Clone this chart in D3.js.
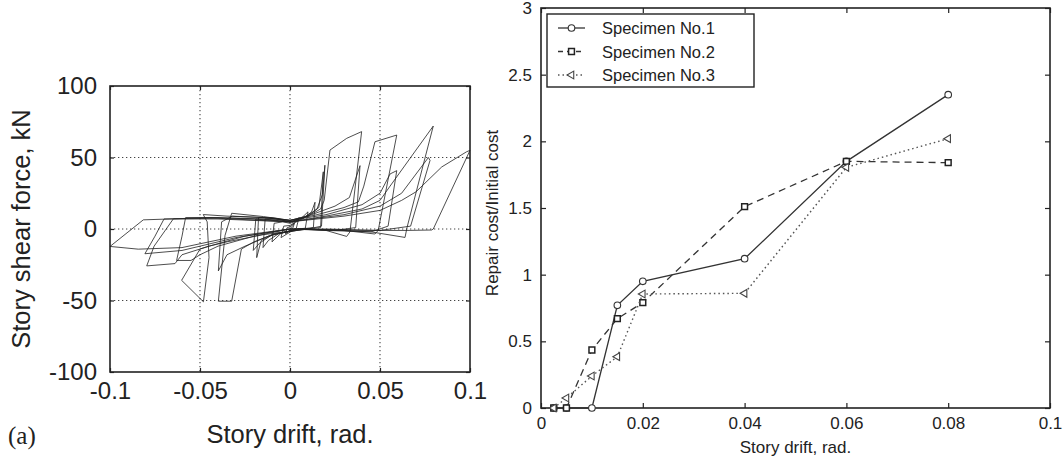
<!DOCTYPE html>
<html>
<head>
<meta charset="utf-8">
<script src="https://cdn.jsdelivr.net/npm/d3@7"></script>
<style>
  body { margin: 0; background: #fff; }
  svg { display: block; font-family: "Liberation Sans", Arial, sans-serif; }
</style>
</head>
<body>
<script>
// ---- panel (a) : hysteresis loops, [drift, force] ----
const driftTicksA = [-0.1, -0.05, 0, 0.05, 0.1]
const forceTicks = [-100, -50, 0, 50, 100]
const hysteresisLoops = [
  [[0, 0], [0.0025, 4], [0.0015, 0.5], [-0.0025, -3.5], [-0.0015, 1], [0, 1.5]],
  [[0, 1.5], [0.005, 8], [0.0035, 0.5], [-0.005, -6], [-0.0035, 2], [0, 2.5]],
  [[0, 2.5], [0.005, 6], [0.01, 12], [0.0085, 0.5], [0.003, 0], [-0.005, -3], [-0.01, -9], [-0.0088, 4], [-0.004, 5], [0, 4]],
  [[0, 4], [0.007, 7], [0.012, 12], [0.0139, 18.7], [0.013, 1], [0.006, 0], [-0.006, -3], [-0.012, -8], [-0.015, -13], [-0.0138, 7], [-0.007, 7], [0, 5]],
  [[0, 5], [0.008, 8], [0.015, 14], [0.018, 24], [0.0194, 44.6], [0.0175, 2], [0.01, 0], [-0.008, -3], [-0.016, -8], [-0.0185, -20], [-0.0175, 8], [-0.01, 8], [0, 6]],
  [[0, 6], [0.01, 9], [0.016, 15], [0.0185, 40], [0.017, 1], [0.008, 0], [-0.01, -4], [-0.017, -10], [-0.0204, -15], [-0.019, 7], [-0.008, 7], [0, 5]],
  [[0, 5], [0.01, 9], [0.017, 14], [0.019, 20], [0.0222, 55.2], [0.0315, 63.4], [0.0398, 68.1], [0.0333, -2], [0.0315, -5.2], [0.02, -1], [0.005, 0], [-0.01, -4], [-0.02, -9], [-0.027, -14], [-0.0324, -50.5], [-0.0398, -50.5], [-0.0361, -4.5], [-0.0324, 11], [-0.0148, 8.7], [0, 6]],
  [[0, 6], [0.012, 10], [0.025, 16], [0.033, 22], [0.0389, 44.3], [0.0365, 1], [0.025, -1], [0.005, 0], [-0.012, -5], [-0.025, -12], [-0.035, -18], [-0.0398, -29.3], [-0.038, 5], [-0.032, 9], [-0.015, 8], [0, 6]],
  [[0, 6], [0.015, 10], [0.03, 15], [0.038, 19], [0.041, 30], [0.0472, 61], [0.0593, 65.7], [0.049, -1], [0.0472, -3.5], [0.03, -1], [0.01, 0], [-0.015, -4], [-0.035, -9], [-0.045, -12], [-0.05, -14], [-0.0602, -35.9], [-0.0481, -50.9], [-0.045, -20], [-0.046, 5], [-0.0482, 10.1], [-0.035, 9], [-0.015, 8], [0, 6]],
  [[0, 6], [0.02, 10], [0.04, 17], [0.05, 25], [0.0556, 38.5], [0.0593, 40.8], [0.0545, 2], [0.045, -2], [0.02, -1], [0, 0], [-0.02, -5], [-0.04, -12], [-0.05, -18], [-0.055, -22], [-0.063, -22], [-0.06, -5], [-0.058, 8], [-0.04, 8], [-0.015, 7], [0, 5]],
  [[0, 5], [0.02, 9], [0.04, 14], [0.05, 20], [0.0556, 30], [0.0796, 72], [0.065, 1], [0.0639, -5.9], [0.045, -2], [0.02, -0.5], [0, 0], [-0.025, -5], [-0.045, -12], [-0.06, -18], [-0.0639, -24.2], [-0.0796, -25.8], [-0.0755, -12], [-0.0648, 7.1], [-0.045, 8], [-0.02, 7], [0, 5]],
  [[0, 5], [0.03, 10], [0.05, 16], [0.062, 25], [0.0769, 50], [0.0778, 48], [0.067, 2], [0.05, -1], [0.02, 0], [0, 0], [-0.03, -6], [-0.06, -15], [-0.0806, -17.3], [-0.075, -5], [-0.07, 7], [-0.04, 7.5], [0, 5]],
  [[0, 5], [0.03, 9], [0.05, 13], [0.062, 20], [0.07, 26], [0.0843, 43.4], [0.0981, 54], [0.1, 55], [0.0796, 0], [0.0787, -0.7], [0.065, -1], [0.04, -1], [0, 0], [-0.03, -5], [-0.06, -13], [-0.0843, -14.1], [-0.1, -12.2], [-0.0815, 6.4], [-0.0648, 7.1], [-0.04, 7], [0, 5]]
]

// ---- panel (b) : repair cost ratio ----
const driftLevels = [0.0025, 0.005, 0.01, 0.015, 0.02, 0.04, 0.06, 0.08]
const specimen1 = [0, 0, 0, 0.77, 0.95, 1.12, 1.85, 2.35]
const specimen2 = [0, 0, 0.435, 0.67, 0.79, 1.51, 1.85, 1.84]
const specimen3 = [0, 0.075, 0.24, 0.385, 0.855, 0.86, 1.805, 2.02]
const specimenNames = ["Specimen No.1", "Specimen No.2", "Specimen No.3"]
const driftTicksB = [0, 0.02, 0.04, 0.06, 0.08, 0.1]
const costTicks = [0, 0.5, 1, 1.5, 2, 2.5, 3]

// tirets simples comme dans la figure d'origine
const plainNum = d => String(d)

const svg = d3.select("body").append("svg")
  .attr("width", 1063)
  .attr("height", 460)

// ================= panel (a) =================
const a = { left: 110, right: 470, top: 86, bottom: 372 }
const xa = d3.scaleLinear().domain([-0.1, 0.1]).range([a.left, a.right])
const ya = d3.scaleLinear().domain([-100, 100]).range([a.bottom, a.top])

const gA = svg.append("g")

// grille pointillée
gA.selectAll(".vgrid").data(driftTicksA.slice(1, -1)).join("line")
  .attr("x1", d => xa(d)).attr("x2", d => xa(d))
  .attr("y1", a.top).attr("y2", a.bottom)
  .attr("stroke", "#444").attr("stroke-width", 1.1).attr("stroke-dasharray", "1.3,2.7")
gA.selectAll(".hgrid").data(forceTicks.slice(1, -1)).join("line")
  .attr("x1", a.left).attr("x2", a.right)
  .attr("y1", d => ya(d)).attr("y2", d => ya(d))
  .attr("stroke", "#444").attr("stroke-width", 1.1).attr("stroke-dasharray", "1.3,2.7")

// boucles
const lineA = d3.line().x(d => xa(d[0])).y(d => ya(d[1]))
gA.append("g")
  .selectAll("path")
  .data(hysteresisLoops)
  .join("path")
  .attr("d", lineA)
  .attr("fill", "none")
  .attr("stroke", "#222")
  .attr("stroke-width", 1)
  .attr("stroke-opacity", 0.8)
  .attr("stroke-linejoin", "round")

// axes
gA.append("g").attr("transform", `translate(0,${a.bottom})`)
  .call(d3.axisBottom(xa).tickValues(driftTicksA).tickSize(-4).tickPadding(10).tickFormat(plainNum))
gA.append("g").attr("transform", `translate(${a.left},0)`)
  .call(d3.axisLeft(ya).tickValues(forceTicks).tickSize(-4).tickPadding(13).tickFormat(plainNum))
gA.append("g").attr("transform", `translate(0,${a.top})`)
  .call(d3.axisTop(xa).tickValues(driftTicksA).tickSize(-4).tickFormat(""))
gA.append("g").attr("transform", `translate(${a.right},0)`)
  .call(d3.axisRight(ya).tickValues(forceTicks).tickSize(-4).tickFormat(""))

gA.selectAll(".domain").remove()
gA.selectAll(".tick line").attr("stroke", "#222").attr("stroke-width", 1.2)
gA.selectAll(".tick text")
  .attr("fill", "#222")
  .style("font-size", "24px")
  .style("font-family", "'Liberation Sans', Arial, sans-serif")

gA.append("rect")
  .attr("x", a.left).attr("y", a.top)
  .attr("width", a.right - a.left).attr("height", a.bottom - a.top)
  .attr("fill", "none").attr("stroke", "#222").attr("stroke-width", 1.6)

gA.append("text")
  .attr("text-anchor", "middle")
  .attr("x", (a.left + a.right) / 2)
  .attr("y", 443)
  .attr("fill", "#222")
  .style("font-size", "25.5px")
  .text("Story drift, rad.")

gA.append("text")
  .attr("text-anchor", "middle")
  .attr("transform", `translate(30,${(a.top + a.bottom) / 2}) rotate(-90)`)
  .attr("fill", "#222")
  .style("font-size", "25.5px")
  .text("Story shear force, kN")

gA.append("text")
  .attr("x", 8)
  .attr("y", 444)
  .attr("fill", "#222")
  .style("font-family", "'Liberation Serif', 'Times New Roman', serif")
  .style("font-size", "25px")
  .text("(a)")

// ================= panel (b) =================
const b = { left: 541, right: 1050, top: 8, bottom: 408 }
const xb = d3.scaleLinear().domain([0, 0.1]).range([b.left, b.right])
const yb = d3.scaleLinear().domain([0, 3]).range([b.bottom, b.top])

const gB = svg.append("g")

gB.append("g").attr("transform", `translate(0,${b.bottom})`)
  .call(d3.axisBottom(xb).tickValues(driftTicksB).tickSize(-5).tickPadding(9).tickFormat(plainNum))
gB.append("g").attr("transform", `translate(${b.left},0)`)
  .call(d3.axisLeft(yb).tickValues(costTicks).tickSize(-5).tickPadding(9).tickFormat(plainNum))
gB.append("g").attr("transform", `translate(0,${b.top})`)
  .call(d3.axisTop(xb).tickValues(driftTicksB).tickSize(-5).tickFormat(""))
gB.append("g").attr("transform", `translate(${b.right},0)`)
  .call(d3.axisRight(yb).tickValues(costTicks).tickSize(-5).tickFormat(""))

gB.selectAll(".domain").remove()
gB.selectAll(".tick line").attr("stroke", "#222").attr("stroke-width", 1.2)
gB.selectAll(".tick text")
  .attr("fill", "#222")
  .style("font-size", "17px")
  .style("font-family", "'Liberation Sans', Arial, sans-serif")

gB.append("rect")
  .attr("x", b.left).attr("y", b.top)
  .attr("width", b.right - b.left).attr("height", b.bottom - b.top)
  .attr("fill", "none").attr("stroke", "#222").attr("stroke-width", 1.6)

gB.append("text")
  .attr("text-anchor", "middle")
  .attr("x", (b.left + b.right) / 2)
  .attr("y", 453)
  .attr("fill", "#222")
  .style("font-size", "17px")
  .text("Story drift, rad.")

gB.append("text")
  .attr("text-anchor", "middle")
  .attr("transform", `translate(498,213) rotate(-90)`)
  .attr("fill", "#222")
  .style("font-size", "17px")
  .text("Repair cost/Initial cost")

// séries
const series = [
  { name: specimenNames[0], values: specimen1, dash: null, symbol: "circle" },
  { name: specimenNames[1], values: specimen2, dash: "7,5", symbol: "square" },
  { name: specimenNames[2], values: specimen3, dash: "1.5,3", symbol: "triangle" }
]

const lineB = d3.line().x(d => xb(d[0])).y(d => yb(d[1]))

function drawMarker(g, type, cx, cy) {
  if (type === "circle") {
    g.append("circle").attr("cx", cx).attr("cy", cy).attr("r", 3.3)
      .attr("fill", "#fff").attr("stroke", "#333").attr("stroke-width", 1.1)
  } else if (type === "square") {
    g.append("path").attr("d", d3.symbol().type(d3.symbolSquare).size(34)())
      .attr("transform", `translate(${cx},${cy})`)
      .attr("fill", "#fff").attr("stroke", "#222").attr("stroke-width", 1.5)
  } else {
    g.append("path").attr("d", d3.symbol().type(d3.symbolTriangle).size(26)())
      .attr("transform", `translate(${cx},${cy}) rotate(-90)`)
      .attr("fill", "#fff").attr("stroke", "#444").attr("stroke-width", 1.1)
  }
}

series.forEach(s => {
  const pts = driftLevels.map((d, i) => [d, s.values[i]])
  gB.append("path")
    .attr("d", lineB(pts))
    .attr("fill", "none")
    .attr("stroke", s.symbol === "triangle" ? "#555" : "#333")
    .attr("stroke-width", s.symbol === "triangle" ? 1.4 : 1.3)
    .attr("stroke-dasharray", s.dash)
  const mg = gB.append("g")
  pts.forEach(p => drawMarker(mg, s.symbol, xb(p[0]), yb(p[1])))
})

// légende
const legend = gB.append("g")
legend.append("rect")
  .attr("x", 547).attr("y", 14)
  .attr("width", 207).attr("height", 73)
  .attr("fill", "#fff").attr("stroke", "#222").attr("stroke-width", 1.4)

series.forEach((s, i) => {
  const ly = 28 + i * 23.5
  legend.append("line")
    .attr("x1", 558).attr("x2", 585)
    .attr("y1", ly).attr("y2", ly)
    .attr("stroke", s.symbol === "triangle" ? "#555" : "#333")
    .attr("stroke-width", 1.3)
    .attr("stroke-dasharray", s.dash ? (s.symbol === "square" ? "5,4" : "1.5,3") : null)
  drawMarker(legend, s.symbol, 571.5, ly)
  legend.append("text")
    .attr("x", 602)
    .attr("y", ly + 6)
    .attr("fill", "#222")
    .style("font-size", "16.5px")
    .text(s.name)
})
</script>
</body>
</html>
